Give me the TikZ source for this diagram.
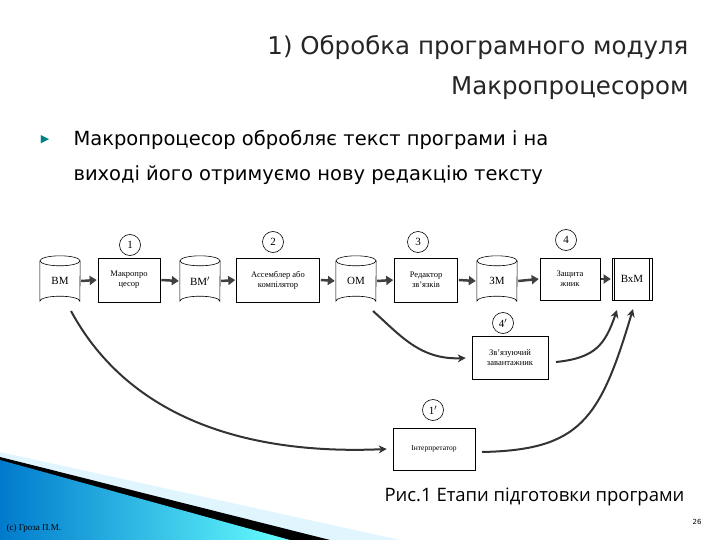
\documentclass[tikz,border=0pt]{standalone}
\usepackage{fontspec}
\setmainfont{Liberation Serif}
\newfontfamily\tfont{DejaVu Sans}
\newfontfamily\cfont{Open Sans}
\usetikzlibrary{arrows.meta,calc}
\begin{document}
\begin{tikzpicture}[x=1pt,y=-1pt,
  box/.style={draw,line width=0.6pt,font=\fontsize{8.5}{10}\selectfont,align=center,inner sep=1pt},
  cyl/.style={minimum width=40pt,minimum height=50pt,inner sep=0pt,font=\fontsize{11}{12}\selectfont},
  num/.style={draw,circle,minimum size=21pt,inner sep=0pt,line width=0.6pt,font=\fontsize{11}{12}\selectfont},
  harr/.style={line width=2.5pt,color=black!75,-{Triangle[length=7pt,width=9pt]}},
  carr/.style={-{Stealth[length=8pt,width=8pt]},line width=2pt,draw=black!80}]
\useasboundingbox (0,0) rectangle (720,540);
\newcommand\cylpath[1]{%
  \draw[line width=0.6pt] ($(#1.north west)+(0,5)$) -- ($(#1.south west)+(0,-5)$)
    arc[start angle=180,end angle=0,x radius=20pt,y radius=5pt]
    -- ($(#1.north east)+(0,5)$);
  \draw[line width=0.6pt] ($(#1.north)+(0,5)$) ellipse[x radius=20pt,y radius=5pt];}
% decoration
\fill[cyan!12!white] (0,452) -- (400,540) -- (0,540) -- cycle;
\fill[black] (20,462) -- (330,540) -- (0,540) -- (0,457) -- cycle;
\shade[left color=cyan!60!blue!80!black,right color=cyan!60!white] (0,460) -- (290,540) -- (0,540) -- cycle;
% title
\node[anchor=east,font=\tfont\fontsize{24.5}{28}\selectfont,text=black!85] (t1) at (692,48) {1) Обробка програмного модуля};
\node[anchor=east,font=\tfont\fontsize{24.5}{28}\selectfont,text=black!85] (t2) at (692,88) {Макропроцесором};
\node[font=\tfont\fontsize{11}{12}\selectfont,text=teal] (bul) at (45,140) {▶};
\node[anchor=west,font=\tfont\fontsize{19.5}{22}\selectfont] (b1) at (70,140) {Макропроцесор обробляє текст програми і на};
\node[anchor=west,font=\tfont\fontsize{19.5}{22}\selectfont] (b2) at (70,175) {виході його отримуємо нову редакцію тексту};
% nodes
\node[cyl] (bm) at (60,281) {ВМ};
\node[box,minimum width=62pt,minimum height=44pt] (mp) at (129,280) {Макропро\\цесор};
\node[cyl] (bm2) at (200,281) {ВМ$'$};
\node[box,minimum width=83pt,minimum height=44pt] (as) at (278,280) {Ассемблер або\\компілятор};
\node[cyl] (om) at (356,281) {ОМ};
\node[box,minimum width=63pt,minimum height=44pt] (re) at (426,280) {Редактор\\зв'язків};
\node[cyl] (zm) at (497,281) {ЗМ};
\node[box,minimum width=60pt,minimum height=42pt] (za) at (570,279) {Защита\\жник};
\node[box,minimum width=40pt,minimum height=42pt,font=\fontsize{11}{12}\selectfont] (vx) at (632,279) {ВхМ};
\cylpath{bm}\cylpath{bm2}\cylpath{om}\cylpath{zm}
\draw[line width=0.6pt] ($(vx.north west)+(3,0)$) -- ($(vx.south west)+(3,0)$);
\draw[line width=0.6pt] ($(vx.north east)+(-3,0)$) -- ($(vx.south east)+(-3,0)$);
\node[box,minimum width=76pt,minimum height=43pt] (zv) at (510,358) {Зв'язуючий\\завантажник};
\node[box,minimum width=82pt,minimum height=42pt,font=\fontsize{7.5}{9}\selectfont] (in) at (434,449) {Інтерпретатор};
% numbers
\node[num] (n1) at (130,245) {1};
\node[num] (n2) at (273,242) {2};
\node[num] (n3) at (418,242) {3};
\node[num] (n4) at (566,240) {4};
\node[num] (n4b) at (503,323) {4$'$};
\node[num] (n1b) at (433,410) {1$'$};
% straight arrows
\draw[harr] ($(bm.east)+(1,0)$) -- ($(mp.west)+(-1,0)$);
\draw[harr] ($(mp.east)+(1,0)$) -- ($(bm2.west)+(-1,0)$);
\draw[harr] ($(bm2.east)+(1,0)$) -- ($(as.west)+(-1,0)$);
\draw[harr] ($(as.east)+(1,0)$) -- ($(om.west)+(-1,0)$);
\draw[harr] ($(om.east)+(1,0)$) -- ($(re.west)+(-1,0)$);
\draw[harr] ($(re.east)+(1,0)$) -- ($(zm.west)+(-1,0)$);
\draw[harr] ($(zm.east)+(1,0)$) -- ($(za.west)+(-1,0)$);
\draw[harr] ($(za.east)+(1,0)$) -- ($(vx.west)+(-1,0)$);
% curves
\coordinate (c1) at (373,311);
\coordinate (c2) at (556,362);
\coordinate (c3) at (71,311);
\coordinate (c4) at (482,452);
\draw[carr] (c1) .. controls (400,335) and (420,360) .. ($(zv.west)+(-6,0)$);
\draw[carr] (c2) .. controls (595,358) and (605,345) .. (617,310);
\draw[carr] (c3) .. controls (130,420) and (250,455) .. ($(in.west)+(-6,0)$);
\draw[carr] (c4) .. controls (580,450) and (600,420) .. (633,309);
% caption
\node[anchor=west,font=\cfont\fontsize{18.5}{20}\selectfont] (cap) at (381,497) {Рис.1 Етапи підготовки програми};
\node[anchor=west,font=\fontsize{9}{10}\selectfont] (cr) at (3,528) {(c) Гроза П.М.};
\node[font=\tfont\fontsize{7}{8}\selectfont] (pg) at (697,522) {26};
\end{tikzpicture}
\end{document}
